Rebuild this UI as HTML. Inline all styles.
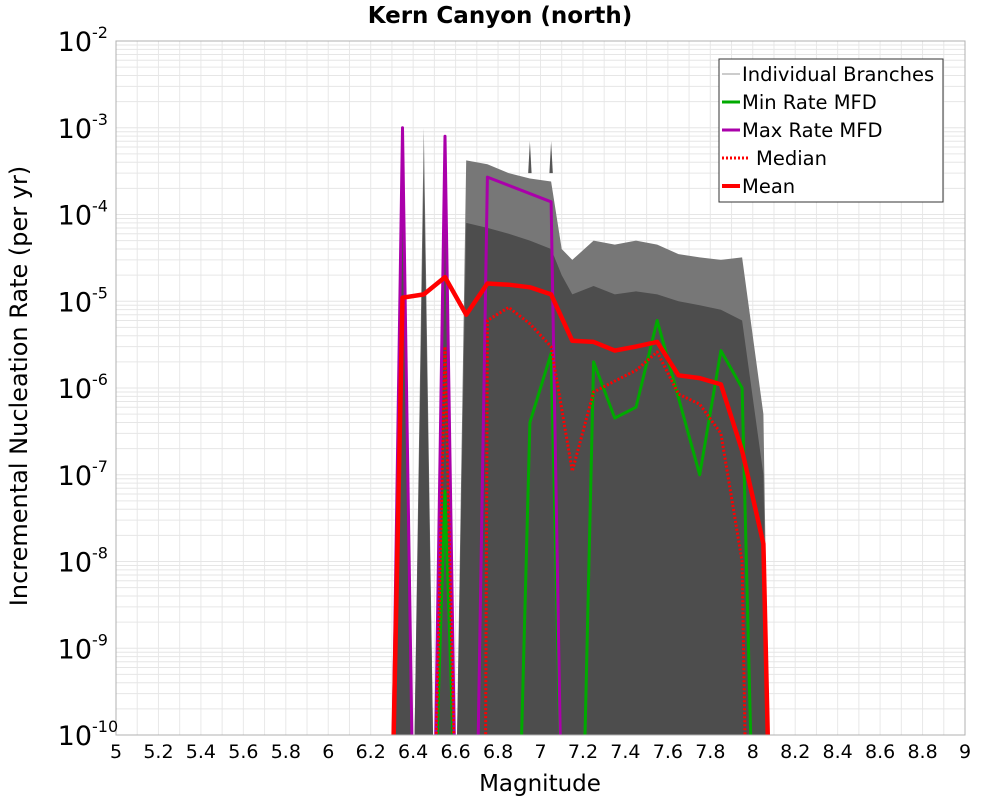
<!DOCTYPE html>
<html><head><meta charset="utf-8"><style>
body{margin:0;background:#fff}
svg{display:block;font-family:"DejaVu Sans","Liberation Sans",sans-serif}
</style></head><body>
<svg id="chart" width="1000" height="800" viewBox="0 0 1000 800">
<defs><clipPath id="pc"><rect x="116" y="41" width="849" height="694"/></clipPath></defs>
<text x="500" y="23" text-anchor="middle" font-size="23" font-weight="bold">Kern Canyon (north)</text>
<g id="grid"></g>
<g id="marks" clip-path="url(#pc)"></g>
<rect x="116" y="41" width="849" height="694" fill="none" stroke="#b0b0b0" stroke-width="1"/>
<g id="xticks"></g>
<g id="yticks"></g>
<text x="540" y="791" text-anchor="middle" font-size="23">Magnitude</text>
<text transform="translate(27,386) rotate(-90)" text-anchor="middle" font-size="24">Incremental Nucleation Rate (per yr)</text>
<g>
<rect x="719" y="59" width="224" height="143" fill="#fff" stroke="#333" stroke-width="1"/>
<line x1="722" y1="74" x2="740" y2="74" stroke="#999" stroke-width="1"/>
<text x="742" y="81" font-size="19.5">Individual Branches</text>
<line x1="722" y1="102" x2="740" y2="102" stroke="#00aa00" stroke-width="3"/>
<text x="742" y="109" font-size="19.5">Min Rate MFD</text>
<line x1="722" y1="130" x2="740" y2="130" stroke="#aa00aa" stroke-width="3"/>
<text x="742" y="137" font-size="19.5">Max Rate MFD</text>
<line x1="722" y1="158" x2="748" y2="158" stroke="#ff0000" stroke-width="3" stroke-dasharray="2,2"/>
<text x="756" y="165" font-size="19.5">Median</text>
<line x1="722" y1="186" x2="740" y2="186" stroke="#ff0000" stroke-width="4"/>
<text x="742" y="193" font-size="19.5">Mean</text>
</g>
</svg>
<script>
const xTicks=[5,5.2,5.4,5.6,5.8,6,6.2,6.4,6.6,6.8,7,7.2,7.4,7.6,7.8,8,8.2,8.4,8.6,8.8,9];
const yExps=[-2,-3,-4,-5,-6,-7,-8,-9,-10];
const FLOOR=1e-11;
const meanMag=[6.3,6.35,6.45,6.55,6.65,6.75,6.85,6.95,7.05,7.15,7.25,7.35,7.45,7.55,7.65,7.75,7.85,7.95,8.05,8.08];
const meanVal=[1e-11,1.1e-5,1.2e-5,1.9e-5,7e-6,1.6e-5,1.55e-5,1.45e-5,1.2e-5,3.5e-6,3.4e-6,2.7e-6,3.0e-6,3.4e-6,1.4e-6,1.3e-6,1.1e-6,1.9e-7,1.6e-8,1e-11];
const medMag=[6.5,6.55,6.6,6.74,6.75,6.85,6.95,7.05,7.15,7.25,7.35,7.45,7.55,7.65,7.75,7.85,7.95,7.97];
const medVal=[1e-11,3e-6,1e-11,1e-11,6e-6,8.5e-6,5.5e-6,3e-6,1.1e-7,9e-7,1.2e-6,1.6e-6,2.6e-6,8.5e-7,6.5e-7,3e-7,1e-8,1e-11];
const minMag=[6.5,6.55,6.6,6.9,6.95,7.05,7.1,7.2,7.25,7.35,7.45,7.55,7.75,7.85,7.95,8.0];
const minVal=[1e-11,6.5e-8,1e-11,1e-11,4e-7,2.5e-6,1e-11,1e-11,2e-6,4.5e-7,6e-7,6e-6,1e-7,2.7e-6,1e-6,1e-11];
const maxMag=[6.3,6.35,6.4,6.5,6.55,6.6,6.7,6.75,7.05,7.1];
const maxVal=[1e-11,1e-3,1e-11,1e-11,8e-4,1e-11,1e-11,2.7e-4,1.4e-4,1e-11];
// individual-branch envelopes
const envMag=[6.3,6.35,6.4,6.45,6.5,6.55,6.6,6.65,6.75,6.85,6.95,7.05,7.1,7.15,7.25,7.35,7.45,7.55,7.65,7.75,7.85,7.95,8.05,8.08];
const envHi=[1e-11,1e-3,1e-11,1e-3,1e-11,8e-4,1e-11,4.2e-4,3.8e-4,3.0e-4,2.6e-4,2.4e-4,4e-5,3e-5,5e-5,4.5e-5,5e-5,4.5e-5,3.5e-5,3.2e-5,3e-5,3.2e-5,5e-7,1e-11];
const envCore=[1e-11,3e-4,1e-11,3e-4,1e-11,2e-4,1e-11,8e-5,7e-5,6e-5,5e-5,4e-5,2e-5,1.2e-5,1.5e-5,1.2e-5,1.3e-5,1.2e-5,1e-5,9e-6,8e-6,6e-6,1e-7,1e-11];
const spikeMag=[6.95,7.05];
const spikeVal=[7e-4,7e-4];

const NS='http://www.w3.org/2000/svg';
const X0=116,X1=965,Y0=41,Y1=735;
const xs=m=>X0+(m-5)/4*(X1-X0);
const ys=v=>Y0+(-2-Math.log10(Math.max(v,FLOOR)))/8*(Y1-Y0);
function mk(tag,attrs,parent){const e=document.createElementNS(NS,tag);for(const k in attrs)e.setAttribute(k,attrs[k]);parent.appendChild(e);return e;}
const grid=document.getElementById('grid'),marks=document.getElementById('marks');
for(let i=0;i<=40;i++){const x=xs(5+i*0.1);const l=mk('line',{x1:x,x2:x,y1:Y0,y2:Y1,stroke:'#e8e8e8','stroke-width':1},grid);

}
for(let e=-10;e<-2;e++)for(let k=1;k<10;k++){const y=ys(k*Math.pow(10,e));const l=mk('line',{x1:X0,x2:X1,y1:y,y2:y,stroke:'#e6e6e6','stroke-width':1},grid);

}
function poly(mags,vals){return mags.map((m,i)=>xs(m).toFixed(1)+','+ys(vals[i]).toFixed(1)).join(' ');}
const base=' '+xs(8.08)+','+(Y1+10)+' '+xs(6.3)+','+(Y1+10);
const eh=mk('polygon',{points:poly(envMag,envHi)+base,fill:'#777'},marks);


spikeMag.forEach((m,i)=>{const sp=mk('polygon',{points:xs(m-0.008)+','+ys(3e-4)+' '+xs(m)+','+ys(spikeVal[i])+' '+xs(m+0.008)+','+ys(3e-4),fill:'#555'},marks);

});
const ec=mk('polygon',{points:poly(envMag,envCore)+base,fill:'#4d4d4d'},marks);


function line(mags,vals,color,w,dash,name){const p=mk('polyline',{points:poly(mags,vals),fill:'none',stroke:color,'stroke-width':w,'stroke-linejoin':'round'},marks);if(dash)p.setAttribute('stroke-dasharray',dash);

}
line(minMag,minVal,'#00aa00',3,null,'min-rate-line');
line(maxMag,maxVal,'#aa00aa',3,null,'max-rate-line');
line(medMag,medVal,'#ff0000',3,'2,2','median-line');
line(meanMag,meanVal,'#ff0000',4.5,null,'mean-line');
const xt=document.getElementById('xticks');
xTicks.forEach(t=>{const tx=mk('text',{x:xs(t),y:758,'text-anchor':'middle','font-size':19},xt);tx.textContent=String(t);

});
const yt=document.getElementById('yticks');
yExps.forEach(e=>{const y=ys(Math.pow(10,e));const tx=mk('text',{x:92,y:y+10,'text-anchor':'end','font-size':27},yt);tx.textContent='10';


const s=mk('text',{x:92,y:y-3,'text-anchor':'start','font-size':16},yt);s.textContent=String(e);

});
</script>
</body></html>
